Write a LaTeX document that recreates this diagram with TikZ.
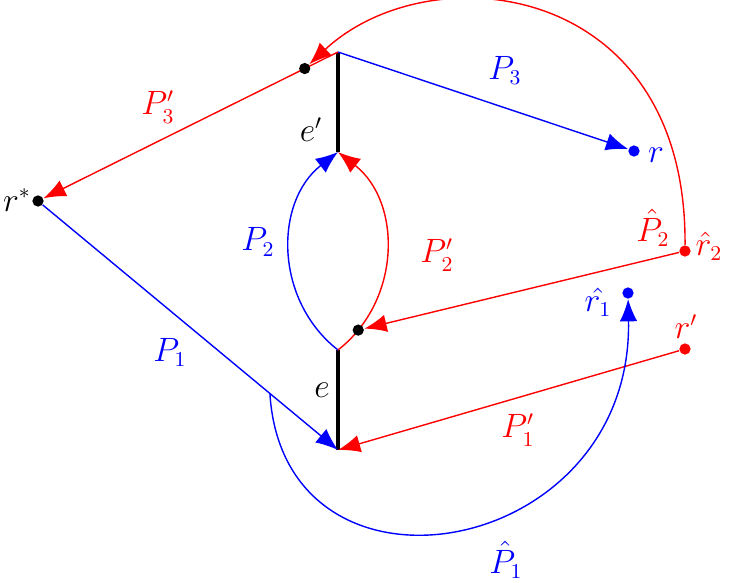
\documentclass[tikz,border=0pt]{standalone}
\usetikzlibrary{arrows.meta,calc}
\begin{document}
\begin{tikzpicture}[x=0.015cm,y=-0.015cm,
  every node/.style={font=\fontsize{13.5}{16}\selectfont},
  dot/.style={circle,fill,inner sep=0pt,minimum size=4.8pt},
  thin path/.style={line width=0.6pt},
  arr/.style={-{Latex[length=9.5pt,width=7.5pt]}},
  tedge/.style={line width=1.7pt,black}]
\useasboundingbox (0,0) rectangle (731,583);
% points
\node[dot] (rstar) at (38,201) {};
\node[dot,blue] (r) at (634,151) {};
\node[dot,red] (r2h) at (685,251) {};
\node[dot,blue] (r1h) at (628,293) {};
\node[dot,red] (rp) at (685,349) {};
\coordinate (et) at (338,52);
\coordinate (eb) at (338,152);
\coordinate (ft) at (338,350);
\coordinate (fb) at (338,450);
\coordinate (p1s) at ($(rstar)!0.773!(fb)$);
% edges e, e'
\draw[tedge] (et) -- (eb);
\draw[tedge] (ft) -- (fb);
% paths
\draw[blue,thin path,arr] (et) -- (r);
\draw[red,thin path,arr] (et) -- node[dot,black,pos=0.113] (d3) {} (rstar);
\draw[blue,thin path,arr] (ft) to[out=142,in=-142,looseness=1.05] (eb);
\draw[red,thin path,arr] (ft) to[out=38,in=-38,looseness=1.05] node[dot,black,pos=0.12] (d2) {} (eb);
\draw[red,thin path,arr] (r2h) -- (d2);
\draw[red,thin path,arr] (r2h) .. controls (687,-20) and (430,-48) .. (d3);
\draw[blue,thin path,arr] (rstar) -- (fb);
\draw[red,thin path,arr] (rp) -- (fb);
\draw[blue,thin path,arr] (p1s) .. controls (284,620) and (633,560) .. (r1h);
% labels
\node[blue] (lP3) at (505,70) {$P_3$};
\node[blue] (lr) at (656,155) {$r$};
\node[red] (lP2h) at (653,228) {$\hat{P}_2$};
\node[red] (lr2h) at (709,246) {$\hat{r}_2$};
\node (le2) at (311,130) {$e'$};
\node[red] (lP3p) at (158,107) {$P_3'$};
\node (lrstar) at (17,200) {$r^*$};
\node[blue] (lP2) at (258,242) {$P_2$};
\node[red] (lP2p) at (437,255) {$P_2'$};
\node[blue] (lr1h) at (598,302) {$\hat{r_1}$};
\node[red] (lrp) at (686,327) {$r'$};
\node (le) at (322,390) {$e$};
\node[blue] (lP1) at (170,352) {$P_1$};
\node[red] (lP1p) at (518,430) {$P_1'$};
\node[blue] (lP1h) at (506,560) {$\hat{P}_1$};
\end{tikzpicture}
\end{document}
